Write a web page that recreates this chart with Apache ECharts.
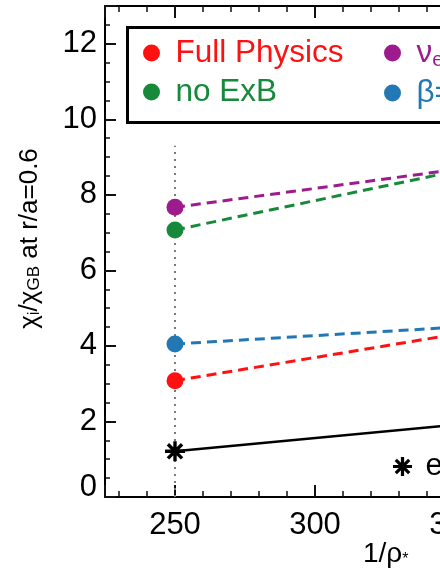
<!DOCTYPE html>
<html><head><meta charset="utf-8">
<script src="https://cdn.jsdelivr.net/npm/echarts@6/dist/echarts.min.js"></script>
<style>html,body{margin:0;padding:0;background:#fff}#c{width:440px;height:577px}</style>
</head><body><div id="c"></div>
<script>
// ---- data ----
const xValues = [250, 360];
const fullPhysics = [3.08, 4.43];
const noExB = [7.07, 8.78];
const nuE = [7.67, 8.77];
const betaLow = [4.05, 4.54];
const experiment = [1.21, 1.98];
const refLineX = [250, 250];
const refLineY = [0, 9.3];
const xRange = [225, 375];
const yRange = [0, 13];

const FONT = "'Liberation Sans', Arial, Helvetica, sans-serif";
const colors = { red: '#ff1111', green: '#16893a', purple: '#9e1b8e', blue: '#2278b5', black: '#000000' };

const STAR = 'path://M-1.7,-10L1.7,-10L1.7,10L-1.7,10Z' +
  'M-10,-1.7L10,-1.7L10,1.7L-10,1.7Z' +
  'M5.87,8.27L-8.27,-5.87L-5.87,-8.27L8.27,5.87Z' +
  'M8.27,-5.87L-5.87,8.27L-8.27,5.87L5.87,-8.27Z';

const pts = arr => xValues.map((x, i) => [x, arr[i]]);

const chart = echarts.init(document.getElementById('c'), null, { renderer: 'canvas' });

const axisCommonX = {
  type: 'value', min: xRange[0], max: xRange[1], splitNumber: 3,
  axisLine: { onZero: false, lineStyle: { color: '#000', width: 2 } },
  axisTick: { inside: true, length: 12, lineStyle: { color: '#111', width: 2 } },
  minorTick: { show: true, splitNumber: 5, length: 6, lineStyle: { color: '#111', width: 1.5 } },
  splitLine: { show: false }
};

const option = {
  animation: false,
  backgroundColor: '#fff',
  textStyle: { fontFamily: FONT },
  grid: { left: 105, top: 6, width: 420, height: 491, containLabel: false, outerBoundsMode: 'none' },
  xAxis: [
    Object.assign({}, axisCommonX, {
      position: 'bottom',
      axisLabel: { show: true, fontSize: 31, color: '#000', margin: 13, fontFamily: FONT, showMinLabel: false }
    }),
    Object.assign({}, axisCommonX, {
      position: 'top',
      axisLabel: { show: false }
    })
  ],
  yAxis: {
    type: 'value', min: yRange[0], max: yRange[1], interval: 2,
    axisLine: { lineStyle: { color: '#000', width: 2 } },
    axisTick: { inside: true, length: 11, lineStyle: { color: '#111', width: 2 } },
    minorTick: { show: true, splitNumber: 4, length: 5, lineStyle: { color: '#111', width: 1.5 } },
    splitLine: { show: false },
    axisLabel: {
      fontSize: 31, color: '#000', margin: 8, fontFamily: FONT, showMaxLabel: false,
      formatter: v => v === 0 ? '{z|0}' : String(v),
      rich: { z: { fontSize: 31, color: '#000', fontFamily: FONT, padding: [0, 0, 20, 0] } }
    },
    name: '{c|χ}{s|i}{c|/χ}{s|GB}{c| at r/a=0.6}',
    nameLocation: 'middle', nameRotate: 90, nameGap: 62,
    nameTextStyle: {
      padding: [0, 0, 0, 26],
      rich: {
        c: { fontSize: 26, color: '#000', fontFamily: FONT },
        s: { fontSize: 17, color: '#000', fontFamily: FONT, padding: [10, 0, 0, 0] }
      }
    }
  },
  legend: [
    {
      left: 143, top: 37, orient: 'vertical', padding: 0, itemGap: 7,
      itemWidth: 38, itemHeight: 17, icon: 'circle', selectedMode: false,
      textStyle: { fontSize: 31.5, lineHeight: 30, fontFamily: FONT },
      data: [
        { name: 'Full Physics', textStyle: { color: colors.red } },
        { name: 'no ExB', textStyle: { color: colors.green } }
      ]
    },
    {
      left: 384, top: 37, orient: 'vertical', padding: 0, itemGap: 7,
      itemWidth: 38, itemHeight: 17, icon: 'circle', selectedMode: false,
      textStyle: {
        fontSize: 31.5, lineHeight: 30, fontFamily: FONT,
        rich: {
          n: { fontSize: 31.5, fontFamily: FONT },
          sub: { fontSize: 20, fontFamily: FONT, padding: [14, 0, 0, 0] }
        }
      },
      formatter: name => name === 'nu' ? '{n|ν}{sub|ei}{n|×0.5}' : (name === 'beta' ? '{n|β=0.5β}' : name),
      data: [
        { name: 'nu', textStyle: { color: colors.purple } },
        { name: 'beta', textStyle: { color: colors.blue } }
      ]
    },
    {
      left: 393, top: 451, orient: 'vertical', padding: 0,
      itemWidth: 36, itemHeight: 19, selectedMode: false,
      textStyle: { fontSize: 31, lineHeight: 30, fontFamily: FONT, color: '#000' },
      data: [{ name: 'experiment', icon: STAR, itemStyle: { color: '#000' } }]
    }
  ],
  graphic: [
    { type: 'rect', left: 125, top: 25, shape: { width: 420, height: 95 }, style: { fill: 'none', stroke: '#000', lineWidth: 3 }, z: 1 },
    { type: 'text', left: 363, top: 540, style: {
        text: '{a|1/ρ}{s|*}',
        rich: { a: { fontSize: 28, fontFamily: FONT, fill: '#000' }, s: { fontSize: 16, fontFamily: FONT, fill: '#000', verticalAlign: 'bottom' } }
      } }
  ],
  series: [
    { name: 'ref', type: 'line', data: refLineX.map((x, i) => [x, refLineY[i]]), symbol: 'none', silent: true, z: 1,
      lineStyle: { color: '#7a7a7a', width: 2, type: [2, 5] } },
    { name: 'experiment', type: 'line', data: pts(experiment), symbol: STAR, symbolSize: 20, z: 3,
      itemStyle: { color: '#000' }, lineStyle: { color: '#000', width: 2.5, type: 'solid' } },
    { name: 'Full Physics', type: 'line', data: pts(fullPhysics), symbol: 'circle', symbolSize: 17, z: 3,
      itemStyle: { color: colors.red }, lineStyle: { color: colors.red, width: 3, type: [10, 6] } },
    { name: 'beta', type: 'line', data: pts(betaLow), symbol: 'circle', symbolSize: 17, z: 3,
      itemStyle: { color: colors.blue }, lineStyle: { color: colors.blue, width: 3, type: [10, 6] } },
    { name: 'no ExB', type: 'line', data: pts(noExB), symbol: 'circle', symbolSize: 17, z: 3,
      itemStyle: { color: colors.green }, lineStyle: { color: colors.green, width: 3, type: [10, 6] } },
    { name: 'nu', type: 'line', data: pts(nuE), symbol: 'circle', symbolSize: 17, z: 3,
      itemStyle: { color: colors.purple }, lineStyle: { color: colors.purple, width: 3, type: [10, 6] } }
  ]
};
chart.setOption(option);
</script>
</body></html>
